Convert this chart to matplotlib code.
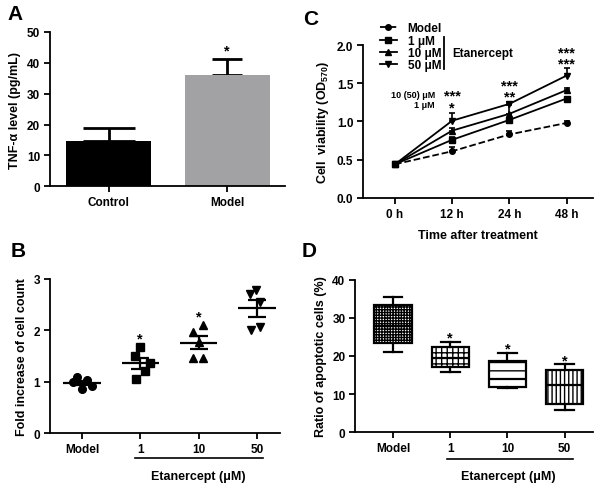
import numpy as np
import matplotlib
matplotlib.use("Agg")
import matplotlib.pyplot as plt
from matplotlib.lines import Line2D
import matplotlib.transforms as mtransforms

plt.rcParams['font.family'] = ['Liberation Sans', 'DejaVu Sans']
plt.rcParams['font.weight'] = 'bold'
plt.rcParams['axes.labelweight'] = 'bold'
plt.rcParams['mathtext.fontset'] = 'custom'
plt.rcParams['mathtext.rm'] = 'Liberation Sans:bold'
plt.rcParams['mathtext.it'] = 'Liberation Sans:bold'
plt.rcParams['mathtext.bf'] = 'Liberation Sans:bold'
plt.rcParams['hatch.linewidth'] = 1.0

# ---- panel A data
a_groups = ['Control', 'Model']
a_means = [14.7, 36.0]
a_errs = [4.1, 5.2]

# ---- panel B data (individual points, jitter for display)
b_groups = ['Model', '1', '10', '50']
b_points = [[1.10, 1.03, 0.99, 0.92, 0.86],
            [1.68, 1.50, 1.36, 1.21, 1.05],
            [2.11, 1.97, 1.78, 1.47, 1.47],
            [2.79, 2.71, 2.55, 2.01, 2.06]]
b_jitter = [[-0.08, 0.08, -0.15, 0.17, 0.0],
            [0.0, -0.09, 0.16, 0.09, -0.07],
            [0.07, -0.09, 0.0, -0.09, 0.07],
            [-0.02, -0.12, 0.05, -0.10, 0.05]]
b_markers = ['o', 's', '^', 'v']

# ---- panel C data
c_times = ['0 h', '12 h', '24 h', '48 h']
c_labels = ['Model', '1 μM', '10 μM', '50 μM']
c_means = [[0.44, 0.61, 0.83, 0.98],
           [0.44, 0.76, 1.02, 1.30],
           [0.44, 0.88, 1.10, 1.41],
           [0.44, 1.01, 1.23, 1.60]]
c_errs = [[0.01, 0.06, 0.05, 0.02],
          [0.01, 0.04, 0.02, 0.01],
          [0.01, 0.03, 0.12, 0.03],
          [0.01, 0.10, 0.03, 0.10]]
c_markers = ['o', 's', '^', 'v']
c_styles = ['--', '-', '-', '-']
c_signif = ['', '***\n*', '***\n**', '***\n***']

# ---- panel D data (box stats)
d_groups = ['Model', '1', '10', '50']
d_whislo = [21.0, 15.8, 11.5, 5.7]
d_q1 = [23.5, 17.0, 11.9, 7.3]
d_med = [27.8, 19.4, 14.0, 12.3]
d_q3 = [33.3, 22.3, 18.6, 16.2]
d_whishi = [35.5, 23.7, 20.7, 17.8]
d_hatches = ['++++++', '+++', '--', '||||']

fig = plt.figure(figsize=(6, 4.85), dpi=100)
LW = 1.3
TFS = 8.5   # tick labels
LFS = 9     # axis labels


def style(ax):
    for s in ['top', 'right']:
        ax.spines[s].set_visible(False)
    for s in ['left', 'bottom']:
        ax.spines[s].set_linewidth(LW)
    ax.tick_params(length=4, width=LW, labelsize=TFS, pad=3)


def star(ax, x, y, s, fs=10.5):
    ax.annotate(s, (x, y), xytext=(0, -3), textcoords='offset points',
                ha='center', va='center', fontsize=fs, fontweight='bold',
                linespacing=0.75)


# ================= A
axA = fig.add_axes([0.083, 0.614, 0.392, 0.318])
xa = np.arange(len(a_groups))
axA.bar(xa, a_means, width=0.72, color=['black', '#a2a2a5'], zorder=2)
for i, cs in enumerate([19, 11]):
    axA.errorbar(xa[i], a_means[i], yerr=[[0], [a_errs[i]]], fmt='none',
                 ecolor='black', elinewidth=2, capsize=cs, capthick=2, zorder=1)
axA.set_xlim(-0.5, 1.49)
axA.set_ylim(0, 50)
axA.set_yticks(np.arange(0, 51, 10))
axA.set_xticks(xa)
axA.set_xticklabels(a_groups)
axA.set_ylabel('TNF-α level (pg/mL)', fontsize=LFS, labelpad=4)
style(axA)
star(axA, 1, 45.5, '*')

# ================= B
axB = fig.add_axes([0.083, 0.105, 0.384, 0.318])
for i, pts in enumerate(b_points):
    pts = np.array(pts)
    axB.plot(i + np.array(b_jitter[i]), pts, linestyle='none',
             marker=b_markers[i], color='black', ms=5.5, zorder=2)
    m = pts.mean()
    sem = pts.std(ddof=1) / np.sqrt(len(pts))
    axB.hlines(m, i - 0.32, i + 0.32, color='black', lw=1.6, zorder=3)
    axB.errorbar(i, m, yerr=sem, fmt='none', ecolor='black', elinewidth=1.6,
                 capsize=6.5, capthick=1.6, zorder=3)
axB.set_xlim(-0.55, 3.40)
axB.set_ylim(0, 3)
axB.set_yticks([0, 1, 2, 3])
axB.set_xticks(range(4))
axB.set_xticklabels(b_groups)
axB.set_ylabel('Fold increase of cell count', fontsize=LFS, labelpad=4)
style(axB)
for i, y in zip([1, 2, 3], [1.92, 2.34, 3.04]):
    star(axB, i, y, '*')
trB = mtransforms.blended_transform_factory(axB.transData, axB.transAxes)
axB.plot([0.91, 3.10], [-0.162, -0.162], color='black', lw=1.2,
         transform=trB, clip_on=False)
axB.text(2.0, -0.28, 'Etanercept (μM)', transform=trB, ha='center',
         va='center', fontsize=LFS)

# ================= C
axC = fig.add_axes([0.605, 0.590, 0.383, 0.315])
xc = np.arange(len(c_times))
handles = []
for k in range(4):
    axC.errorbar(xc, c_means[k], yerr=[np.zeros(4), c_errs[k]], fmt='none',
                 ecolor='black', elinewidth=1.2, capsize=2.5, capthick=1.2)
    h, = axC.plot(xc, c_means[k], linestyle=c_styles[k], marker=c_markers[k],
                  color='black', lw=1.3, ms=4, label=c_labels[k])
    handles.append(h)
axC.set_xlim(-0.56, 3.46)
axC.set_ylim(0, 2.0)
axC.set_yticks(np.arange(0, 2.01, 0.5))
axC.yaxis.set_major_formatter(matplotlib.ticker.FormatStrFormatter('%.1f'))
axC.set_xticks(xc)
axC.set_xticklabels(c_times)
axC.set_ylabel('Cell  viability (OD$_{570}$)', fontsize=LFS, labelpad=4)
axC.set_xlabel('Time after treatment', fontsize=LFS, labelpad=7)
style(axC)
for i, y in zip([1, 2, 3], [1.315, 1.45, 1.89]):
    star(axC, i, y, c_signif[i])
axC.text(0.70, 1.35, '10 (50) μM', ha='right', va='center', fontsize=6.5)
axC.text(0.70, 1.22, '1 μM', ha='right', va='center', fontsize=6.5)
fig.legend(handles=handles, loc='upper left', bbox_to_anchor=(0.633, 0.952),
           frameon=False, fontsize=8.5, handlelength=1.45, handletextpad=0.9,
           labelspacing=0.03, borderpad=0, borderaxespad=0)
fig.add_artist(Line2D([0.740, 0.740], [0.855, 0.922], color='black', lw=1.3))
fig.text(0.753, 0.889, 'Etanercept', ha='left', va='center', fontsize=8.5)

# ================= D
axD = fig.add_axes([0.592, 0.107, 0.396, 0.314])
stats = []
for i in range(4):
    stats.append(dict(med=d_med[i], q1=d_q1[i], q3=d_q3[i],
                      whislo=d_whislo[i], whishi=d_whishi[i], fliers=[]))
bp = axD.bxp(stats, positions=range(4), widths=0.65, patch_artist=True,
             showfliers=False,
             boxprops=dict(linewidth=1.6, edgecolor='black', facecolor='white'),
             whiskerprops=dict(linewidth=1.6, color='black'),
             capprops=dict(linewidth=1.6, color='black'),
             medianprops=dict(linewidth=1.6, color='black'))
for patch, h in zip(bp['boxes'], d_hatches):
    patch.set_hatch(h)
axD.set_xlim(-0.66, 3.49)
axD.set_ylim(0, 40)
axD.set_yticks(np.arange(0, 41, 10))
axD.set_xticks(range(4))
axD.set_xticklabels(d_groups)
axD.set_ylabel('Ratio of apoptotic cells (%)', fontsize=LFS, labelpad=4)
style(axD)
for i, y in zip([1, 2, 3], [26.0, 23.0, 20.0]):
    star(axD, i, y, '*')
trD = mtransforms.blended_transform_factory(axD.transData, axD.transAxes)
axD.plot([0.94, 3.14], [-0.178, -0.178], color='black', lw=1.2,
         transform=trD, clip_on=False)
axD.text(2.02, -0.29, 'Etanercept (μM)', transform=trD, ha='center',
         va='center', fontsize=LFS)

# panel letters
for lbl, x, y in [('A', 0.012, 0.99), ('B', 0.018, 0.502),
                  ('C', 0.505, 0.98), ('D', 0.503, 0.502)]:
    fig.text(x, y, lbl, fontsize=15, fontweight='bold', ha='left', va='top')

fig.savefig('out.png', dpi=100)
